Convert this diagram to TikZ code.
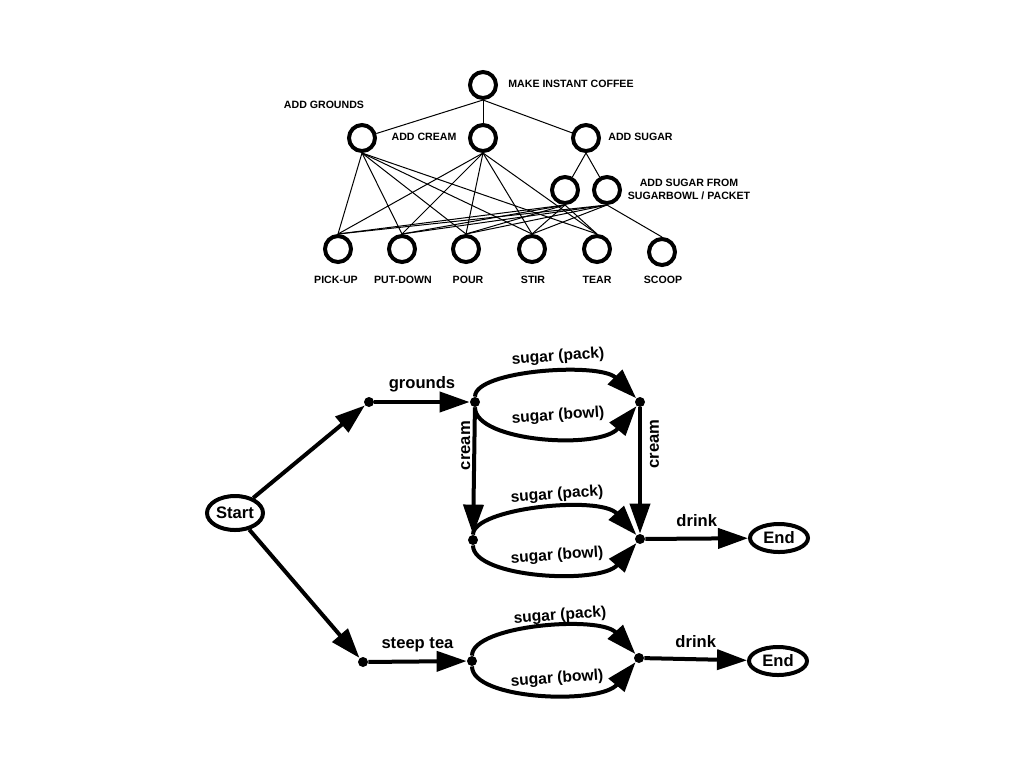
\documentclass[tikz,border=0pt]{standalone}
\usepackage{fontspec}
\setmainfont{Liberation Sans}
\usetikzlibrary{arrows.meta,shapes.geometric}
\begin{document}
\begin{tikzpicture}[x=0.5pt,y=-0.5pt,
 tnode/.style={circle,draw,line width=2pt,minimum size=13pt,inner sep=0pt},
 tlab/.style={font=\fontsize{5.3}{6.4}\selectfont\bfseries,inner sep=0pt},
 tedge/.style={line width=0.5pt},
 dotn/.style={circle,fill,minimum size=5pt,inner sep=0pt},
 term/.style={ellipse,draw,line width=2pt,inner sep=0pt,font=\fontsize{8.3}{10}\selectfont\bfseries},
 arr/.style={line width=2pt,-{Triangle[length=15pt,width=10pt]}},
 lab/.style={font=\fontsize{8.3}{10}\selectfont\bfseries,inner sep=0pt},
 slab/.style={font=\fontsize{7.8}{9}\selectfont\bfseries,inner sep=0pt,rotate=4}]
\useasboundingbox[fill=white] (0,0) rectangle (1024,768);
% ---------- tree ----------
\node[tnode] (M) at (483,85) {};
\node[tnode] (G) at (362,138) {};
\node[tnode] (C) at (483,138) {};
\node[tnode] (S) at (586,138) {};
\node[tnode] (S1) at (565,190) {};
\node[tnode] (S2) at (607,190) {};
\node[tnode] (P1) at (338,249) {};
\node[tnode] (P2) at (402,249) {};
\node[tnode] (P3) at (466,249) {};
\node[tnode] (P4) at (532,249) {};
\node[tnode] (P5) at (597,249) {};
\node[tnode] (P6) at (662,252) {};
\node[tlab,anchor=west] (lM) at (508,84) {MAKE INSTANT COFFEE};
\node[tlab] (lG) at (324,105) {ADD GROUNDS};
\node[tlab] (lC) at (424,137) {ADD CREAM};
\node[tlab,anchor=west] (lS) at (608,137) {ADD SUGAR};
\node[tlab,align=center] (lS12) at (689,189) {ADD SUGAR FROM\\SUGARBOWL / PACKET};
\node[tlab] (l1) at (336,280) {PICK-UP};
\node[tlab] (l2) at (403,280) {PUT-DOWN};
\node[tlab] (l3) at (468,280) {POUR};
\node[tlab] (l4) at (533,280) {STIR};
\node[tlab] (l5) at (597,280) {TEAR};
\node[tlab] (l6) at (663,280) {SCOOP};
\draw[tedge] (M.south) -- (G);
\draw[tedge] (M.south) -- (C);
\draw[tedge] (M.south) -- (S);
\draw[tedge] (S.south) -- (S1);
\draw[tedge] (S.south) -- (S2);
\foreach \p in {P1,P2,P3,P4,P5}{
  \draw[tedge] (G.south) -- (\p.north);
  \draw[tedge] (C.south) -- (\p.north);
  \draw[tedge] (S1.south) -- (\p.north);
}
\foreach \p in {P1,P2,P3,P4,P6}{
  \draw[tedge] (S2.south) -- (\p.north);
}
% ---------- graph ----------
\node[term,minimum width=28pt,minimum height=17pt] (st) at (235,513) {Start};
\node[term,minimum width=29pt,minimum height=14pt] (e1) at (779,538) {End};
\node[term,minimum width=29pt,minimum height=14pt] (e2) at (778,661) {End};
\node[dotn] (a) at (369,402) {};
\node[dotn] (b) at (475,402) {};
\node[dotn] (c) at (640,402) {};
\node[dotn] (d) at (473,540) {};
\node[dotn] (e) at (640,539) {};
\node[dotn] (f) at (363,662) {};
\node[dotn] (g) at (472,661) {};
\node[dotn] (h) at (639,658) {};
\draw[arr] (st) -- (a);
\draw[arr] (st) -- (f);
\draw[arr] (a) -- node[lab,above=4pt] {grounds} (b);
\draw[arr] (f) -- node[lab,above=4pt] {steep tea} (g);
\draw[arr] (b) -- node[lab,pos=0.3,rotate=90,anchor=south,inner sep=1pt] {cream} (d);
\draw[arr] (c) -- node[lab,pos=0.29,rotate=90,anchor=north,inner sep=4pt] {cream} (e);
\draw[arr] (e) -- node[lab,above=5pt] {drink} (e1);
\draw[arr] (h) -- node[lab,above=5pt] {drink} (e2);
% sugar arcs
\draw[arr] (b) .. controls (475,370) and (600,362) .. (c);
\draw[arr] (b) .. controls (475,442) and (600,450) .. (c);
\draw[arr] (d) .. controls (473,508) and (600,495) .. (e);
\draw[arr] (d) .. controls (473,578) and (600,585) .. (e);
\draw[arr] (g) .. controls (472,625) and (600,615) .. (h);
\draw[arr] (g) .. controls (472,700) and (600,705) .. (h);
\node[slab] (s1) at (558,357) {sugar (pack)};
\node[slab] (s2) at (558,416) {sugar (bowl)};
\node[slab] (s3) at (557,495) {sugar (pack)};
\node[slab] (s4) at (557,556) {sugar (bowl)};
\node[slab] (s5) at (560,616) {sugar (pack)};
\node[slab] (s6) at (557,679) {sugar (bowl)};
\end{tikzpicture}
\end{document}
